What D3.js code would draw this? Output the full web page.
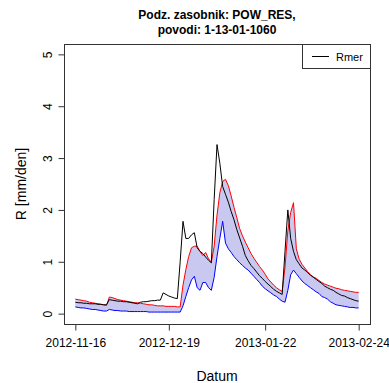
<!DOCTYPE html>
<html>
<head>
<meta charset="utf-8">
<script src="https://cdn.jsdelivr.net/npm/d3@7"></script>
<style>
  body { margin: 0; background: #fff; }
  svg { display: block; }
  text { font-family: "Liberation Sans", Arial, sans-serif; fill: #000; }
</style>
</head>
<body>
<svg id="chart" width="389" height="383"></svg>
<script>
// Daily runoff series, first day 2012-11-16
const startDay = "2012-11-16";

// Observed runoff Rmer [mm/den]
const rmer = [
  0.22,0.21,0.21,0.20,0.20,0.19,0.19,0.19,0.18,0.18,0.17,0.17,
  0.27,0.26,0.25,0.24,0.24,0.23,0.23,0.22,0.21,0.20,0.19,
  0.22,0.23,0.23,0.24,0.25,0.25,0.26,
  0.26,0.40,0.37,0.34,0.32,0.30,0.29,
  1.00,1.78,1.45,1.45,1.52,1.56,1.27,1.20,1.16,1.09,1.03,0.98,
  2.20,3.26,2.90,2.45,2.30,2.15,1.97,1.81,1.62,1.46,1.30,1.12,
  1.02,0.93,0.87,0.80,0.73,0.68,0.62,0.57,0.52,0.47,0.43,0.40,0.37,
  1.20,2.00,1.45,1.20,1.04,0.96,0.88,
  0.84,0.79,0.74,0.70,0.66,0.62,0.58,0.53,0.50,0.47,0.45,0.41,0.38,0.35,0.34,0.31,0.29,0.27,0.25,0.24
];

// Upper envelope of the simulated runoff
const upper = [
  0.28,0.27,0.26,0.25,0.24,0.22,0.21,0.20,0.19,0.18,0.17,0.16,
  0.32,0.31,0.29,0.27,0.26,0.25,0.24,0.23,0.22,0.21,0.21,
  0.20,0.19,0.18,0.17,0.17,0.16,0.15,
  0.15,0.15,0.14,0.14,0.14,0.14,0.13,
  0.13,0.55,0.85,1.10,1.27,1.30,1.30,1.20,1.12,1.18,1.06,0.99,
  1.30,1.90,2.33,2.55,2.59,2.47,2.27,2.05,1.85,1.64,1.50,1.38,
  1.27,1.16,1.07,0.99,0.91,0.84,0.76,0.67,0.61,0.55,0.50,0.46,0.43,
  0.90,1.60,1.95,2.14,1.25,1.05,0.95,
  0.88,0.81,0.75,0.71,0.68,0.64,0.60,0.57,0.55,0.53,0.51,0.49,0.48,0.46,0.45,0.44,0.43,0.42,0.41,0.41
];

// Lower envelope of the simulated runoff
const lower = [
  0.13,0.12,0.11,0.11,0.10,0.09,0.08,0.08,0.07,0.06,0.05,0.05,
  0.08,0.07,0.06,0.06,0.05,0.05,0.05,0.04,0.04,0.04,0.04,
  0.04,0.04,0.04,0.03,0.03,0.03,0.03,
  0.03,0.03,0.03,0.03,0.03,0.03,0.03,
  0.03,0.15,0.33,0.50,0.65,0.72,0.50,0.45,0.60,0.60,0.50,0.45,
  0.70,1.10,1.45,1.78,1.36,1.25,1.18,1.10,1.04,0.98,0.93,0.88,
  0.84,0.78,0.72,0.66,0.60,0.53,0.48,0.44,0.40,0.36,0.33,0.28,0.24,
  0.22,0.45,0.75,0.84,0.77,0.70,0.63,
  0.58,0.54,0.50,0.46,0.42,0.39,0.33,0.31,0.28,0.23,0.20,0.17,0.16,0.15,0.14,0.13,0.12,0.12,0.11,0.11
];

const xTickLabels = ["2012-11-16", "2012-12-19", "2013-01-22", "2013-02-24"];
const yTicks = [0, 1, 2, 3, 4, 5];
const titleLines = ["Podz. zasobnik: POW_RES,", "povodi: 1-13-01-1060"];

const parse = d3.utcParse("%Y-%m-%d");
const fmt = d3.utcFormat("%Y-%m-%d");
const t0 = parse(startDay);
const days = rmer.map((_, i) => d3.utcDay.offset(t0, i));

const plot = { left: 64, right: 370, top: 44, bottom: 324 };

// Axis limits padded by 4% on each side
const tMin = days[0], tMax = days[days.length - 1];
const span = tMax - tMin;
const x = d3.scaleUtc()
  .domain([new Date(+tMin - 0.04 * span), new Date(+tMax + 0.04 * span)])
  .range([plot.left, plot.right]);
const y = d3.scaleLinear()
  .domain([-0.2, 5.2])
  .range([plot.bottom, plot.top]);

const svg = d3.select("#chart");

// Simulation band
const band = d3.area()
  .x((d, i) => x(days[i]))
  .y0((d, i) => y(lower[i]))
  .y1((d, i) => y(upper[i]));
svg.append("path")
  .datum(rmer)
  .attr("d", band)
  .attr("fill", "#c8c8f0")
  .attr("stroke", "none");

const lineOf = arr => d3.line()
  .x((d, i) => x(days[i]))
  .y(d => y(d))(arr);

svg.append("path").attr("d", lineOf(upper))
  .attr("fill", "none").attr("stroke", "#ff0000").attr("stroke-width", 1);
svg.append("path").attr("d", lineOf(lower))
  .attr("fill", "none").attr("stroke", "#0000ff").attr("stroke-width", 1);
svg.append("path").attr("d", lineOf(rmer))
  .attr("fill", "none").attr("stroke", "#000").attr("stroke-width", 1);

// Plot frame
svg.append("rect")
  .attr("x", plot.left + 0.5).attr("y", plot.top + 0.5)
  .attr("width", plot.right - plot.left).attr("height", plot.bottom - plot.top)
  .attr("fill", "none").attr("stroke", "#333").attr("stroke-width", 1);

// X axis
const xAxis = d3.axisBottom(x)
  .tickValues(xTickLabels.map(parse))
  .tickFormat(fmt)
  .tickSize(6)
  .tickPadding(8);
const gx = svg.append("g")
  .attr("transform", `translate(0,${plot.bottom + 0.5})`)
  .call(xAxis);
gx.select(".domain").remove();
gx.selectAll("line").attr("stroke", "#333");
gx.selectAll("text")
  .style("font-family", '"Liberation Sans", Arial, sans-serif')
  .style("font-size", "12px").attr("fill", "#000");

// Y axis with labels turned parallel to the axis
const yAxis = d3.axisLeft(y).tickValues(yTicks).tickFormat(d3.format("d")).tickSize(6);
const gy = svg.append("g")
  .attr("transform", `translate(${plot.left + 0.5},0)`)
  .call(yAxis);
gy.select(".domain").remove();
gy.selectAll("line").attr("stroke", "#333");
gy.selectAll("text")
  .attr("transform", "rotate(-90)")
  .attr("x", 0).attr("y", -13).attr("dy", null)
  .attr("text-anchor", "middle")
  .style("font-family", '"Liberation Sans", Arial, sans-serif')
  .style("font-size", "12px").attr("fill", "#000");

// Titles
const cx = (plot.left + plot.right) / 2;
svg.selectAll("text.title").data(titleLines).enter().append("text")
  .attr("class", "title")
  .attr("x", cx).attr("y", (d, i) => 19 + i * 14.5)
  .attr("text-anchor", "middle")
  .style("font-size", "12px").style("font-weight", "bold")
  .text(d => d);

svg.append("text")
  .attr("x", cx).attr("y", 381)
  .attr("text-anchor", "middle")
  .style("font-size", "14px")
  .text("Datum");

svg.append("text")
  .attr("transform", `translate(26,${(plot.top + plot.bottom) / 2}) rotate(-90)`)
  .attr("text-anchor", "middle")
  .style("font-size", "14px")
  .text("R [mm/den]");

// Legend
const lg = svg.append("g");
lg.append("rect")
  .attr("x", 302.5).attr("y", plot.top + 0.5)
  .attr("width", plot.right - 302).attr("height", 24)
  .attr("fill", "#fff").attr("stroke", "#333");
lg.append("line")
  .attr("x1", 312).attr("x2", 329).attr("y1", 56.5).attr("y2", 56.5)
  .attr("stroke", "#000");
lg.append("text")
  .attr("x", 336).attr("y", 60.5)
  .style("font-size", "11px")
  .text("Rmer");
</script>
</body>
</html>
